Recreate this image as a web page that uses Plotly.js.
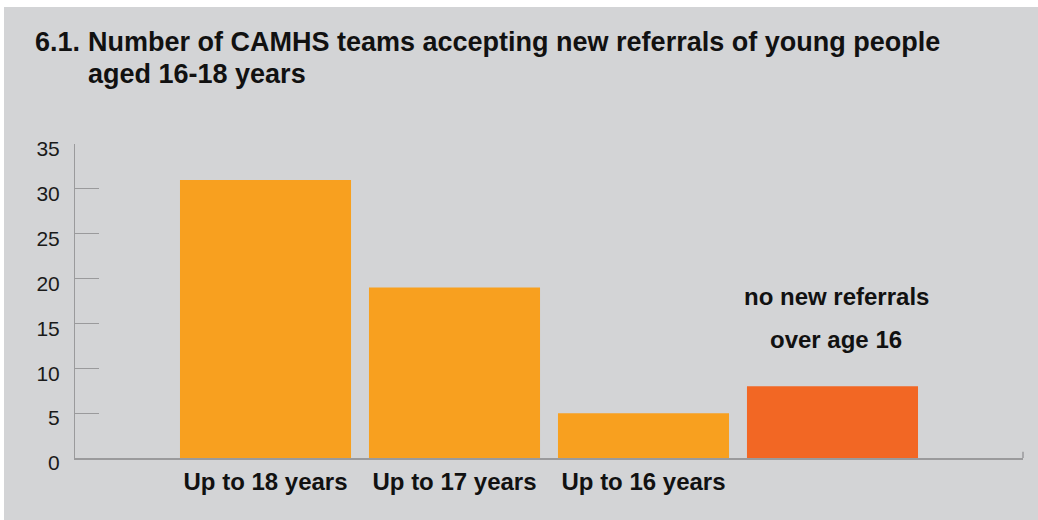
<!DOCTYPE html>
<html>
<head>
<meta charset="utf-8">
<script src="https://cdn.plot.ly/plotly-3.0.1.min.js"></script>
<style>
  html, body { margin: 0; padding: 0; background: #ffffff; }
  #chart { position: absolute; left: 4px; top: 7px; width: 1034px; height: 513px; }
</style>
</head>
<body>
<div id="chart"></div>
<script>
// ---- data ----
const categories = ["Up to 18 years", "Up to 17 years", "Up to 16 years", ""];
const values = [31, 19, 5, 8];
const barColors = ["#f8a01f", "#f8a01f", "#f8a01f", "#f26724"];
const yTicks = [0, 5, 10, 15, 20, 25, 30, 35];
const titleNumber = "6.1.";
const titleLine1 = "Number of CAMHS teams accepting new referrals of young people";
const titleLine2 = "aged 16-18 years";
const noteLine1 = "no new referrals";
const noteLine2 = "over age 16";

const positions = categories.map((c, i) => i);
const labelled = categories.map((c, i) => i).filter(i => categories[i] !== "");

const FONT = "'Liberation Sans', Arial, Helvetica, sans-serif";
const BG = "#d3d4d6";

const trace = {
  type: "bar",
  x: positions,
  y: values,
  width: 0.905,
  marker: { color: barColors, line: { width: 0 } },
  hoverinfo: "skip"
};

const layout = {
  width: 1034,
  height: 513,
  paper_bgcolor: BG,
  plot_bgcolor: BG,
  margin: { l: 71, r: 15, t: 137, b: 62 },
  showlegend: false,
  font: { family: FONT, color: "#1a1a1a" },
  xaxis: {
    range: [-1.008, 4.008],
    tickvals: labelled,
    ticktext: labelled.map(i => categories[i]),
    ticks: "",
    showgrid: false,
    zeroline: false,
    showline: true,
    linecolor: "#9a9a9c",
    linewidth: 1.5,
    tickfont: { family: FONT, size: 24, color: "#111111", weight: "bold" },
    ticklabelstandoff: 2,
    fixedrange: true
  },
  yaxis: {
    range: [0, 35],
    tickvals: yTicks,
    ticks: "inside",
    ticklen: 24,
    tickcolor: "#9a9a9c",
    tickwidth: 1,
    showgrid: false,
    zeroline: false,
    showline: true,
    linecolor: "#9a9a9c",
    linewidth: 1,
    tickfont: { family: FONT, size: 21, color: "#1a1a1a" },
    ticklabelstandoff: 10,
    ticklabelshift: 5,
    fixedrange: true
  },
  shapes: [
    { type: "line", xref: "paper", yref: "paper", x0: 1, x1: 1, y0: 0, y1: 0.02,
      line: { color: "#9a9a9c", width: 1.5 } }
  ],
  annotations: [
    { xref: "paper", yref: "paper", x: -0.0443, y: 1.325, xanchor: "left", yanchor: "middle",
      text: "<b>" + titleNumber + "</b>", showarrow: false,
      font: { family: FONT, size: 27, color: "#111111" } },
    { xref: "paper", yref: "paper", x: 0.0116, y: 1.325, xanchor: "left", yanchor: "middle",
      text: "<b>" + titleLine1 + "</b>", showarrow: false,
      font: { family: FONT, size: 27, color: "#111111" } },
    { xref: "paper", yref: "paper", x: 0.0116, y: 1.223, xanchor: "left", yanchor: "middle",
      text: "<b>" + titleLine2 + "</b>", showarrow: false,
      font: { family: FONT, size: 27, color: "#111111" } },
    { xref: "x", yref: "y", x: 3.02, y: 18.0, xanchor: "center", yanchor: "middle",
      text: "<b>" + noteLine1 + "</b>", showarrow: false,
      font: { family: FONT, size: 24, color: "#111111" } },
    { xref: "x", yref: "y", x: 3.02, y: 13.2, xanchor: "center", yanchor: "middle",
      text: "<b>" + noteLine2 + "</b>", showarrow: false,
      font: { family: FONT, size: 24, color: "#111111" } }
  ]
};

Plotly.newPlot("chart", [trace], layout, { displayModeBar: false, staticPlot: true });
</script>
</body>
</html>
